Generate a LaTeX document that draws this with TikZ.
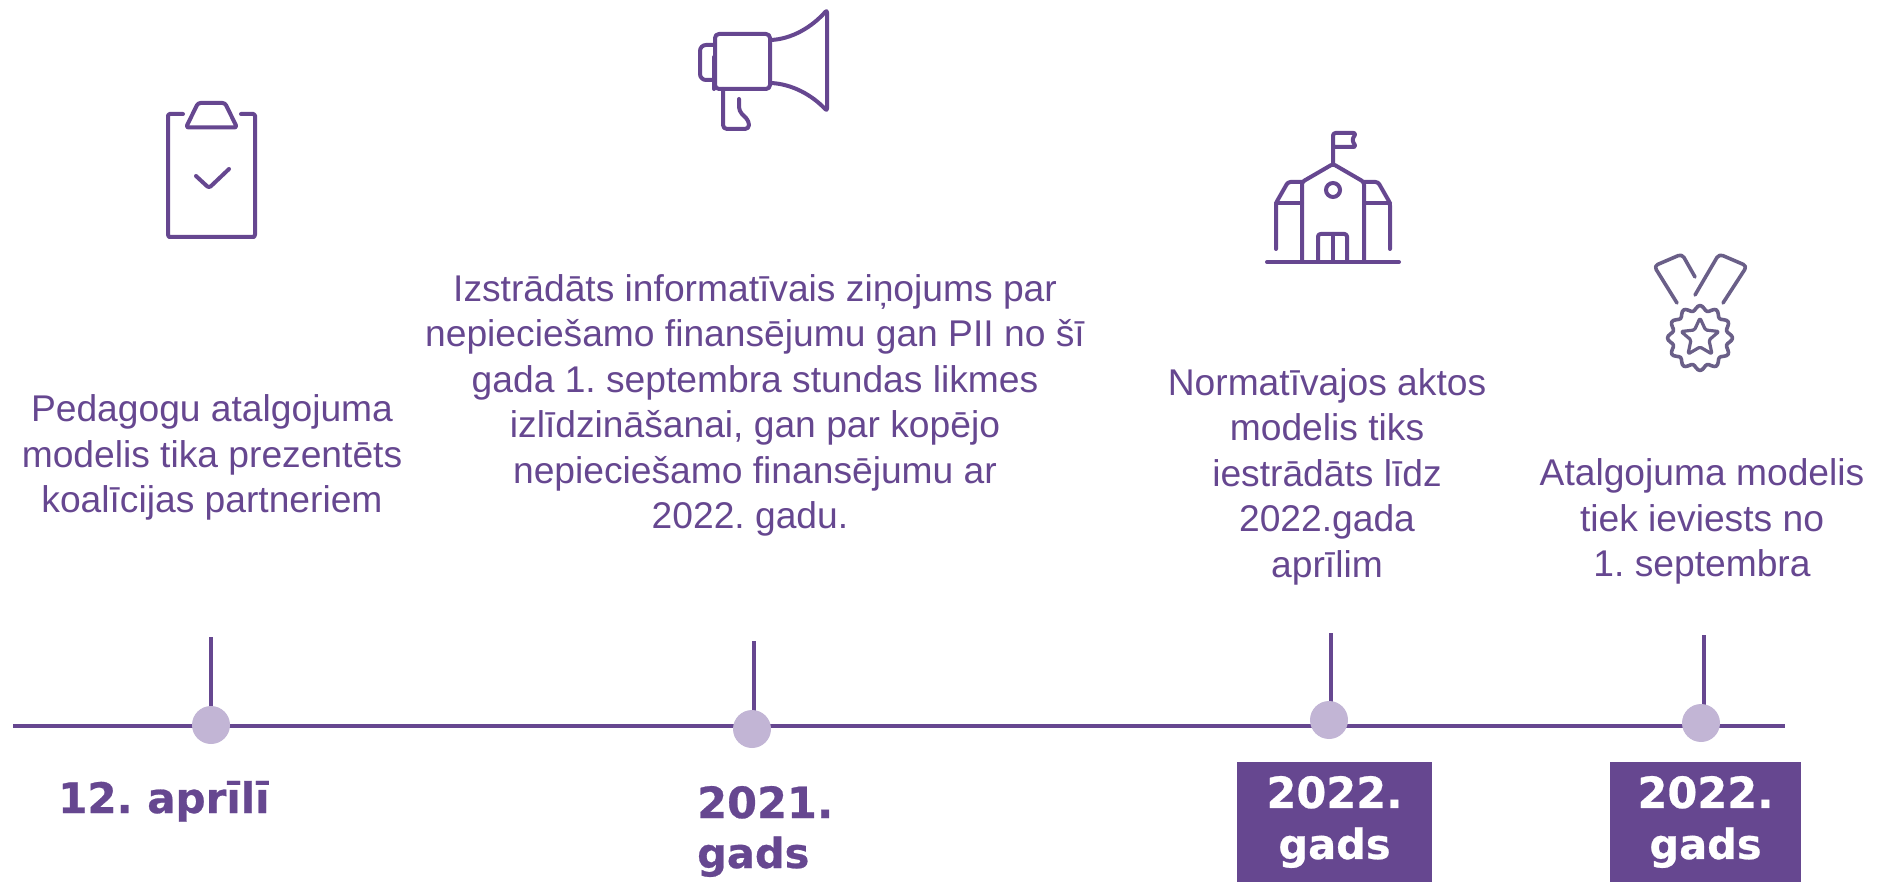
\documentclass[tikz,border=0pt]{standalone}
\usepackage{fontspec}
\setmainfont{Liberation Sans}
\newfontfamily\verd[BoldFeatures={FakeBold=0.6}]{DejaVu Sans}
\definecolor{plum}{HTML}{664790}
\definecolor{lilac}{HTML}{C2B5D5}
\definecolor{medalc}{HTML}{6A5F88}
\frenchspacing
\newcommand{\smallgads}{\fontsize{41.5}{51}\selectfont gads}
\begin{document}
\begin{tikzpicture}[x=1pt,y=-1pt,
  body/.style={text=plum,align=center,inner sep=0pt,font=\frenchspacing\fontsize{37.2}{45.5}\selectfont},
  datetxt/.style={text=plum,inner sep=0pt,align=left,font=\frenchspacing\verd\bfseries\fontsize{43}{51}\selectfont},
  datebox/.style={fill=plum,text=white,inner sep=0pt,align=center,minimum height=120pt,font=\frenchspacing\verd\bfseries\fontsize{43}{51}\selectfont},
  dot/.style={circle,fill=lilac,minimum size=38pt,inner sep=0pt},
  axis/.style={draw=plum,line width=4.2pt},
  stem/.style={draw=plum,line width=3.2pt},
  icon/.style={draw=plum,line width=4pt,line cap=round,line join=round,rounded corners=2.5pt},
  iconm/.style={draw=medalc,line width=3.6pt,line cap=round,line join=round}]
\useasboundingbox (0,0) rectangle (1877,882);

% axis
\coordinate (axisL) at (13,726);
\coordinate (axisR) at (1785,726);
\draw[axis] (axisL) -- (axisR);

% stems and dots
\coordinate (top1) at (211,637);
\coordinate (top2) at (754,641);
\coordinate (top3) at (1331,633);
\coordinate (top4) at (1704,635);
\coordinate (foot1) at (211,725);
\coordinate (foot2) at (754,729);
\coordinate (foot3) at (1331,720);
\coordinate (foot4) at (1704,723);
\draw[stem] (top1) -- (foot1);
\draw[stem] (top2) -- (foot2);
\draw[stem] (top3) -- (foot3);
\draw[stem] (top4) -- (foot4);
\node[dot] (dot1) at (211,725) {};
\node[dot] (dot2) at (752,729) {};
\node[dot] (dot3) at (1329,720) {};
\node[dot] (dot4) at (1701,723) {};

% body texts
\node[body] (t1) at (212,457.5) {Pedagogu atalgojuma\\modelis tika prezentēts\\koalīcijas partneriem};
\node[body] (t2) at (755,405.5) {Izstrādāts informatīvais ziņojums par\\nepieciešamo finansējumu gan PII no šī\\gada 1. septembra stundas likmes\\izlīdzināšanai, gan par kopējo\\nepieciešamo finansējumu ar\\2022. gadu.\hspace*{10pt}};
\node[body] (t3) at (1327,476.5) {Normatīvajos aktos\\modelis tiks\\iestrādāts līdz\\2022.gada\\aprīlim};
\node[body] (t4) at (1702,521.5) {Atalgojuma modelis\\tiek ieviests no\\1. septembra};

% dates
\node[datetxt,anchor=base west,font=\frenchspacing\verd\bfseries\fontsize{42}{51}\selectfont] (d1) at (58,813) {12. aprīlī};
\node[datetxt,anchor=base west] (d2a) at (697,818) {2021.};
\node[datetxt,anchor=base west] (d2b) at (697,868) {\smallgads};
\node[datebox,minimum width=195pt] (b3) at (1334.5,822) {2022.\\\smallgads};
\node[datebox,minimum width=191pt] (b4) at (1705.5,822) {2022.\\\smallgads};

% clipboard
\draw[icon] (183,114) -- (172,114) .. controls (169,114) and (168,115) .. (168,118) -- (168,232) .. controls (168,236) and (169,237) .. (172,237) -- (251,237) .. controls (254,237) and (255,236) .. (255,232) -- (255,118) .. controls (255,115) and (254,114) .. (251,114) -- (241,114);
\draw[icon] (198,103) -- (225,103) -- (237,127.5) -- (186,127.5) -- cycle;
\draw[icon] (196,176) -- (209,188) -- (229,169);

% megaphone
\draw[icon,rounded corners=4pt] (715,34) -- (770,34) -- (770,89) -- (715,89) -- cycle;
\draw[icon,rounded corners=6pt] (715,45) -- (700,45) -- (700,80) -- (714,80);
\draw[icon] (714,57) -- (714,89);
\draw[icon] (771,40) .. controls (792,39) and (812,27) .. (827,10) -- (827,111) .. controls (812,95) and (792,84) .. (771,83);
\draw[icon,rounded corners=4pt] (723,89) -- (723,129) -- (749,129) -- (749,121) -- (739,111) -- (739,99);

% school
\draw[icon] (1267,262) -- (1399,262);
\draw[icon] (1302,262) -- (1302,182) -- (1333,164) -- (1364,182) -- (1364,262);
\draw[icon] (1333,164) -- (1333,133) -- (1356,133) -- (1352,140) -- (1356,147) -- (1333,147);
\draw[draw=plum,line width=4pt] (1333,190) circle (7);
\draw[icon] (1318,262) -- (1318,234) -- (1347,234) -- (1347,262);
\draw[icon] (1333,234) -- (1333,262);
\draw[icon] (1302,182) -- (1288,182) -- (1276,203) -- (1276,249);
\draw[icon] (1276,203) -- (1302,203);
\draw[icon] (1364,182) -- (1378,182) -- (1390,203) -- (1390,249);
\draw[icon] (1364,203) -- (1390,203);

% medal
\draw[iconm,rounded corners=4pt] (1677,303) -- (1654,266) -- (1682,254) -- (1695,277);
\draw[iconm,rounded corners=4pt] (1695,295) -- (1719,254) -- (1747,266) -- (1723,303);
\draw[iconm] plot[domain=0:360,samples=97,smooth] ({1700+(30+2.5*cos(12*\x))*cos(\x)},{338+(30+2.5*cos(12*\x))*sin(\x)}) -- cycle;
\draw[iconm,line width=3.2pt,rounded corners=1.5pt] (1700,318) -- (1705.5,330) -- (1719,331.5) -- (1709,340) -- (1712,354) -- (1700,347) -- (1688,354) -- (1691,340) -- (1681,331.5) -- (1694.5,330) -- cycle;
\end{tikzpicture}
\end{document}
